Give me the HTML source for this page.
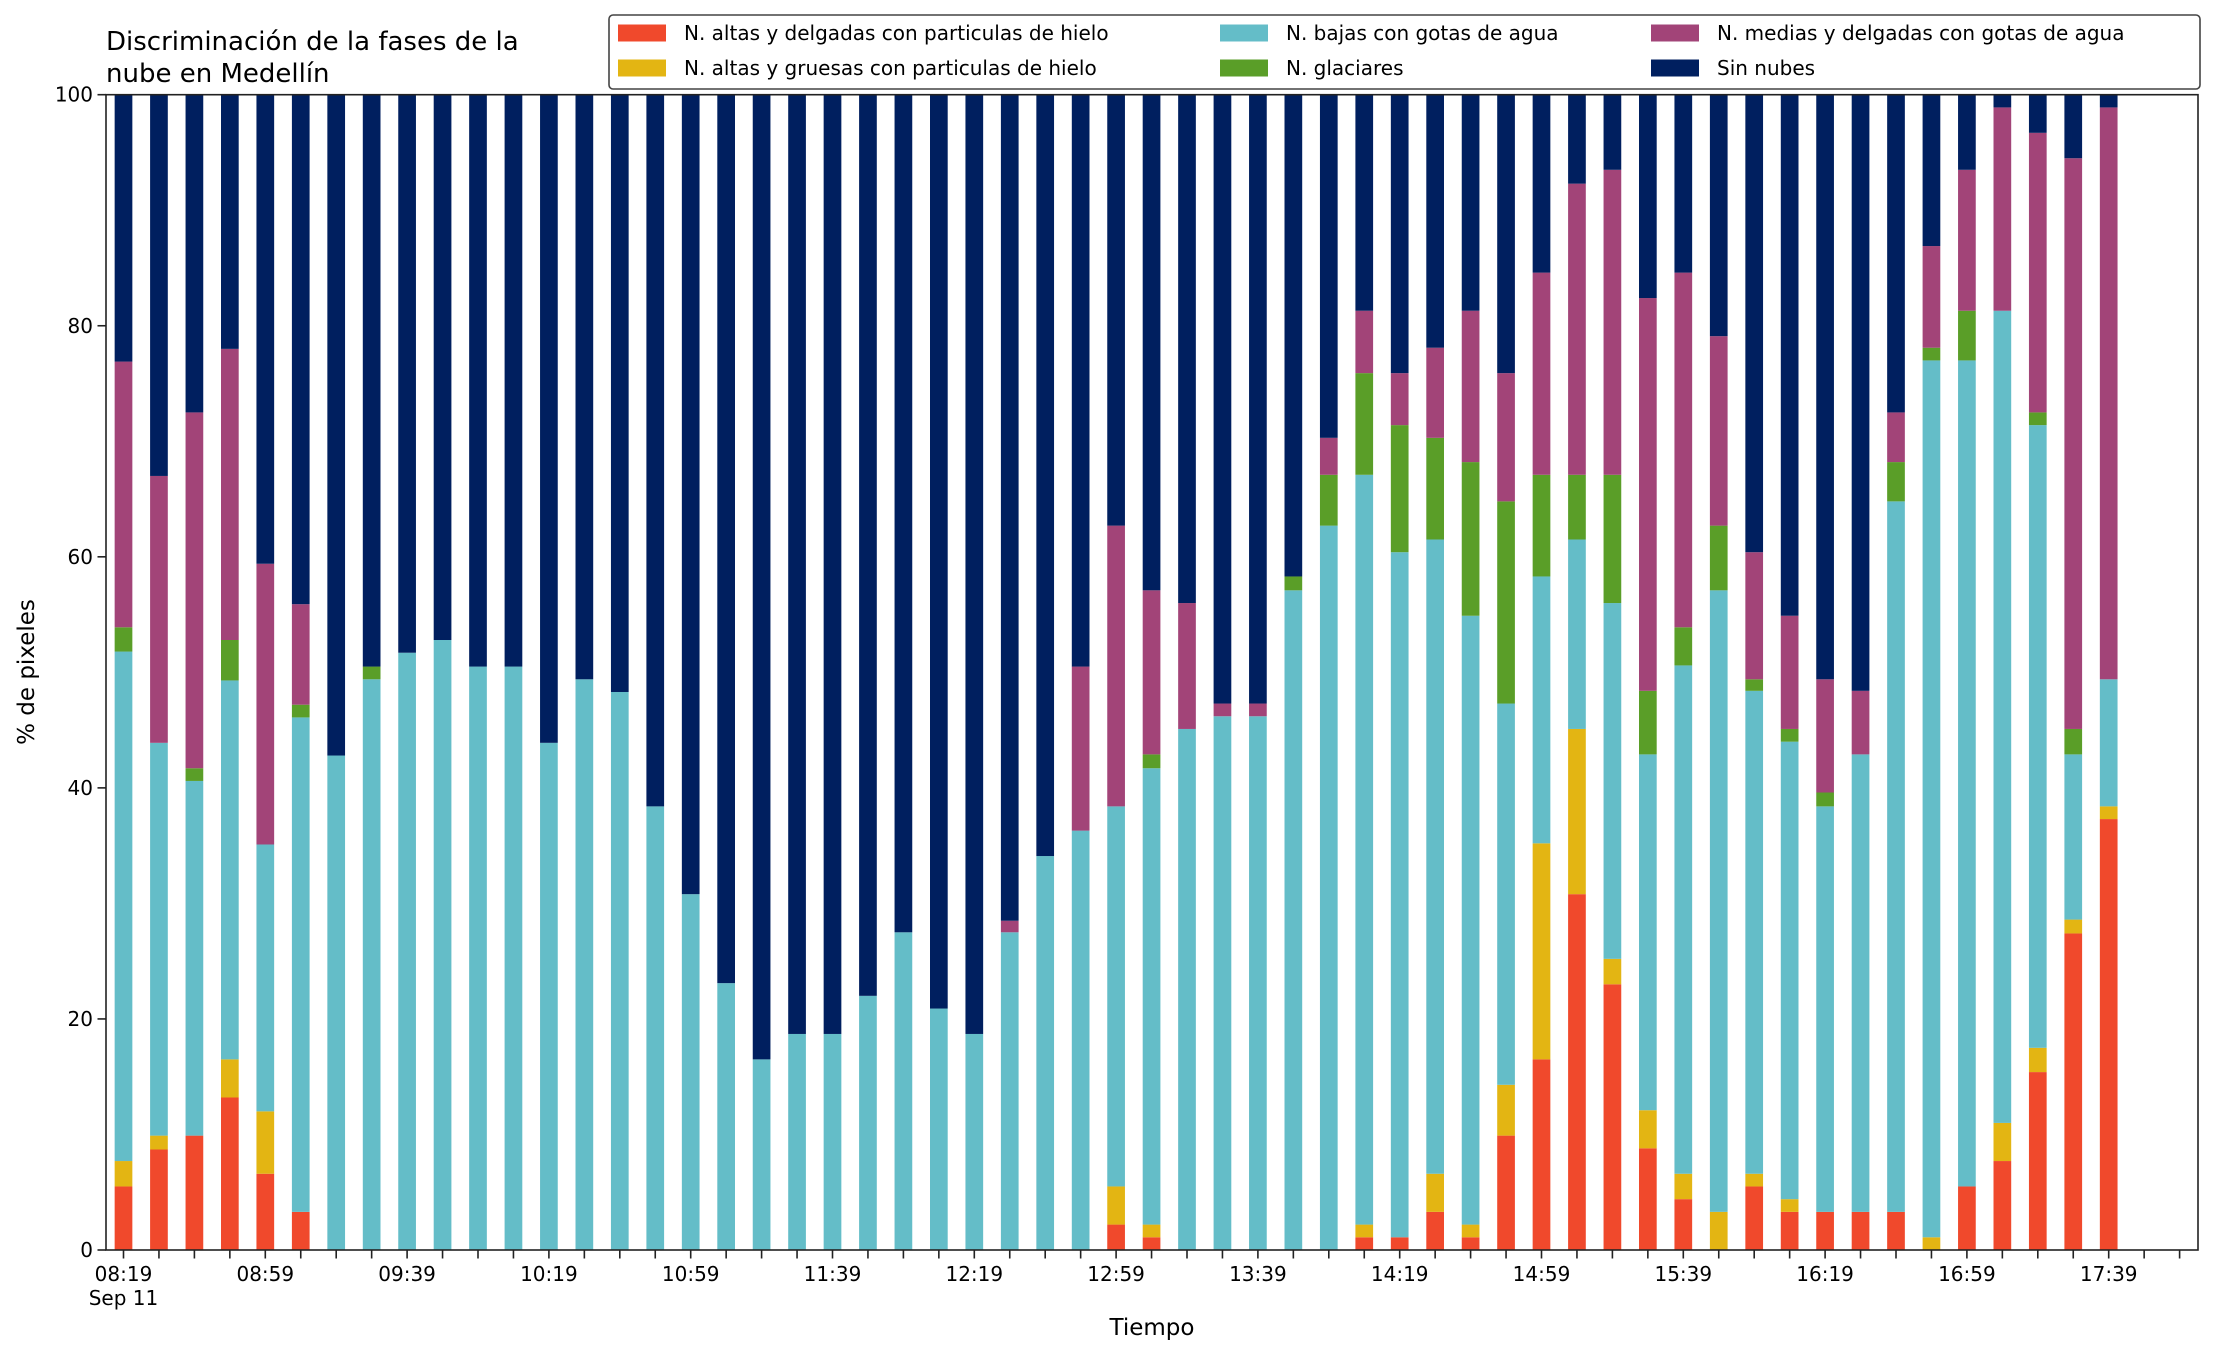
<!DOCTYPE html>
<html><head><meta charset="utf-8">
<style>
html,body{margin:0;padding:0;background:#fff;}
svg{display:block;font-family:"DejaVu Sans","Liberation Sans",sans-serif;}
</style></head>
<body>
<svg id="chart" width="2216" height="1355" viewBox="0 0 2216 1355" xmlns="http://www.w3.org/2000/svg">
<rect width="2216" height="1355" fill="#fff"/>
<text x="106" y="50" font-size="26" fill="#000">Discriminación de la fases de la</text>
<text x="106" y="82" font-size="26" fill="#000">nube en Medellín</text>
<g id="bars"></g>
<g id="axes"></g>
<text transform="translate(34,672) rotate(-90)" text-anchor="middle" font-size="23">% de pixeles</text>
<text x="1152" y="1335" text-anchor="middle" font-size="23">Tiempo</text>
<g id="legend"></g>
</svg>
<script>
const categories = ["08:19","08:29","08:39","08:49","08:59","09:09","09:19","09:29","09:39","09:49","09:59","10:09","10:19","10:29","10:39","10:49","10:59","11:09","11:19","11:29","11:39","11:49","11:59","12:09","12:19","12:29","12:39","12:49","12:59","13:09","13:19","13:29","13:39","13:49","13:59","14:09","14:19","14:29","14:39","14:49","14:59","15:09","15:19","15:29","15:39","15:49","15:59","16:09","16:19","16:29","16:39","16:49","16:59","17:09","17:19","17:29","17:39"];
const altasDelgadas = [5.5,8.7,9.9,13.2,6.6,3.3,0,0,0,0,0,0,0,0,0,0,0,0,0,0,0,0,0,0,0,0,0,0,2.2,1.1,0,0,0,0,0,1.1,1.1,3.3,1.1,9.9,16.5,30.8,23.0,8.8,4.4,0,5.5,3.3,3.3,3.3,3.3,0,5.5,7.7,15.4,27.4,37.3];
const altasGruesas = [2.2,1.2,0,3.3,5.4,0,0,0,0,0,0,0,0,0,0,0,0,0,0,0,0,0,0,0,0,0,0,0,3.3,1.1,0,0,0,0,0,1.1,0,3.3,1.1,4.4,18.7,14.3,2.2,3.3,2.2,3.3,1.1,1.1,0,0,0,1.1,0,3.3,2.1,1.2,1.1];
const bajasAgua = [44.1,34.0,30.7,32.8,23.1,42.8,42.8,49.4,51.7,52.8,50.5,50.5,43.9,49.4,48.3,38.4,30.8,23.1,16.5,18.7,18.7,22.0,27.5,20.9,18.7,27.5,34.1,36.3,32.9,39.5,45.1,46.2,46.2,57.1,62.7,64.9,59.3,54.9,52.7,33.0,23.1,16.4,30.8,30.8,44.0,53.8,41.8,39.6,35.1,39.6,61.5,75.9,71.5,70.3,53.9,14.3,11.0];
const glaciares = [2.1,0,1.1,3.5,0,1.1,0,1.1,0,0,0,0,0,0,0,0,0,0,0,0,0,0,0,0,0,0,0,0,0,1.2,0,0,0,1.2,4.4,8.8,11.0,8.8,13.3,17.5,8.8,5.6,11.1,5.5,3.3,5.6,1.0,1.1,1.2,0,3.4,1.1,4.3,0,1.1,2.2,0];
const mediasAgua = [23.0,23.1,30.8,25.2,24.3,8.7,0,0,0,0,0,0,0,0,0,0,0,0,0,0,0,0,0,0,0,1.0,0,14.2,24.3,14.2,10.9,1.1,1.1,0,3.2,5.4,4.5,7.8,13.1,11.1,17.5,25.2,26.4,34.0,30.7,16.4,11.0,9.8,9.8,5.5,4.3,8.8,12.2,17.6,24.2,49.4,49.5];
const yTicks = [0,20,40,60,80,100];
const seriesNames = ["N. altas y delgadas con particulas de hielo","N. altas y gruesas con particulas de hielo","N. bajas con gotas de agua","N. glaciares","N. medias y delgadas con gotas de agua","Sin nubes"];
const seriesColors = ["#f0492c","#e3b513","#64bdc8","#5a9e28","#a24478","#001f5f"];

const NS = "http://www.w3.org/2000/svg";
const L = 106, R = 2198, T = 94.7, B = 1250;
const step = 35.45, x0 = 123.5, barW = 17.7;
function xPos(i){ return x0 + i*step; }
function yPos(v){ return B - v*(B-T)/100; }
function mk(tag, attrs, parent){ const e=document.createElementNS(NS,tag); for(const k in attrs) e.setAttribute(k,attrs[k]); parent.appendChild(e); return e; }

const barsG = document.getElementById('bars');
const seriesData = [altasDelgadas, altasGruesas, bajasAgua, glaciares, mediasAgua];
categories.forEach((c,i)=>{
  let cum = 0;
  const vals = seriesData.map(s=>s[i]);
  const sum = vals.reduce((a,b)=>a+b,0);
  vals.push(Math.max(0,100-sum));
  vals.forEach((v,k)=>{
    if(v<=0) return;
    const r = mk('rect',{x:xPos(i)-barW/2, y:yPos(cum+v), width:barW, height:yPos(cum)-yPos(cum+v), fill:seriesColors[k]}, barsG);
    
    
    cum += v;
  });
});

const ax = document.getElementById('axes');
const frame = mk('rect',{x:L,y:T,width:R-L,height:B-T,fill:'none',stroke:'#222','stroke-width':1.6},ax);


yTicks.forEach(t=>{
  const y=yPos(t);
  const ln=mk('line',{x1:L-8.5,x2:L,y1:y,y2:y,stroke:'#222','stroke-width':1.6},ax);
  
  
  const tx=mk('text',{x:L-13,y:y+7,'text-anchor':'end','font-size':20},ax);
  
  
  tx.textContent=t;
});
for(let i=0;i<=categories.length+1;i++){
  const x=xPos(i);
  const ln=mk('line',{x1:x,x2:x,y1:B,y2:B+8.5,stroke:'#222','stroke-width':1.6},ax);
  
  
  if(i%4===0 && i<categories.length){
    const tx=mk('text',{x:x,y:1281,'text-anchor':'middle','font-size':20},ax);
    
    
    tx.textContent=categories[i];
  }
}
const sep=mk('text',{x:xPos(0),y:1305,'text-anchor':'middle','font-size':20},ax);


sep.textContent="Sep 11";

const lg=document.getElementById('legend');
const box=mk('rect',{x:609,y:15,width:1591,height:74,rx:4,fill:'#fff',stroke:'#444','stroke-width':1.6},lg);


const colX=[618,1220,1651];
const rowY=[33,68];
seriesNames.forEach((n,k)=>{
  const col=Math.floor(k/2), row=k%2;
  const g=mk('g',{},lg);
  
  
  mk('rect',{x:colX[col],y:rowY[row]-8.5,width:48,height:17,fill:seriesColors[k]},g);
  const t=mk('text',{x:colX[col]+66,y:rowY[row]+7,'font-size':20},g);
  t.textContent=n;
});
</script>
</body></html>
